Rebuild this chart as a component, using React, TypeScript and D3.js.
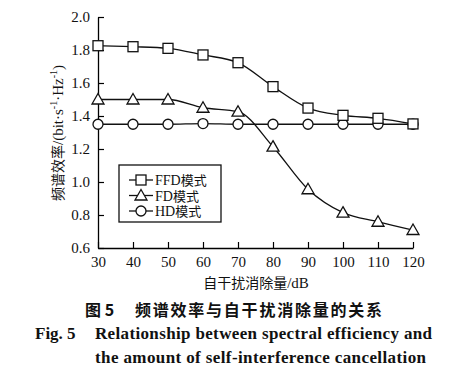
import { useEffect, useRef } from "react";
import * as d3 from "d3";

const xValues = [30, 40, 50, 60, 70, 80, 90, 100, 110, 120];
const ffdValues = [1.826, 1.82, 1.81, 1.77, 1.723, 1.578, 1.448, 1.404, 1.386, 1.352];
const fdValues = [1.5, 1.5, 1.5, 1.45, 1.426, 1.214, 0.956, 0.814, 0.759, 0.709];
const hdValues = [1.35, 1.35, 1.35, 1.354, 1.35, 1.35, 1.35, 1.35, 1.35, 1.35];
const yTicks = [0.6, 0.8, 1.0, 1.2, 1.4, 1.6, 1.8, 2.0];
const seriesNames = ["FFD模式", "FD模式", "HD模式"];
const markers = ["square", "triangle", "circle"];

const W = 460;
const H = 370;
const serif = "'Liberation Serif', 'Times New Roman', serif";
const cjk = "'Noto Sans CJK SC', sans-serif";

const App = () => {
  const ref = useRef<SVGSVGElement>(null);

  useEffect(() => {
    const svg = d3.select(ref.current);
    svg.selectAll("*").remove();

    const x = d3.scaleLinear().domain([30, 120]).range([98, 413]);
    const y = d3.scaleLinear().domain([0.6, 2.0]).range([248, 17]);

    // axes (ticks point inward)
    const xAxis = d3.axisBottom(x).tickValues(xValues).tickSize(-6).tickSizeOuter(0).tickFormat(d3.format("d"));
    svg
      .append("g")
      .attr("transform", "translate(0,248)")
      .call(xAxis)
      .call((g) => g.select(".domain").attr("stroke-width", 1.3))
      .call((g) => g.selectAll(".tick line").attr("stroke-width", 1.2))
      .call((g) =>
        g.selectAll(".tick text").attr("dy", "1.05em").attr("font-size", 15).attr("font-family", serif).attr("fill", "#111")
      );

    const yAxis = d3.axisLeft(y).tickValues(yTicks).tickSize(-6).tickSizeOuter(0).tickFormat(d3.format(".1f"));
    svg
      .append("g")
      .attr("transform", "translate(98,0)")
      .call(yAxis)
      .call((g) => g.select(".domain").attr("stroke-width", 1.3))
      .call((g) => g.selectAll(".tick line").attr("stroke-width", 1.2))
      .call((g) =>
        g.selectAll(".tick text").attr("x", -8).attr("font-size", 15).attr("font-family", serif).attr("fill", "#111")
      );

    // series
    const line = d3
      .line<number>()
      .x((_, i) => x(xValues[i]))
      .y((d) => y(d))
      .curve(d3.curveMonotoneX);

    const allSeries = [ffdValues, fdValues, hdValues];

    const drawMarker = (g: any, type: string, cx: number, cy: number) => {
      if (type === "square") {
        g.append("rect").attr("x", cx - 5).attr("y", cy - 5).attr("width", 10).attr("height", 10)
          .attr("fill", "white").attr("stroke", "#111").attr("stroke-width", 1.3);
      } else if (type === "triangle") {
        g.append("path").attr("d", `M${cx},${cy - 6}L${cx + 6},${cy + 4.5}L${cx - 6},${cy + 4.5}Z`)
          .attr("fill", "white").attr("stroke", "#111").attr("stroke-width", 1.3);
      } else {
        g.append("circle").attr("cx", cx).attr("cy", cy).attr("r", 5)
          .attr("fill", "white").attr("stroke", "#111").attr("stroke-width", 1.3);
      }
    };

    // draw lines first, then markers (HD, FD, FFD order)
    [2, 1, 0].forEach((s) => {
      svg.append("path").datum(allSeries[s]).attr("fill", "none").attr("stroke", "#111")
        .attr("stroke-width", 1.3).attr("d", line);
    });
    [2, 1, 0].forEach((s) => {
      const g = svg.append("g");
      allSeries[s].forEach((v, i) => drawMarker(g, markers[s], x(xValues[i]), y(v)));
    });

    // legend
    const lg = svg.append("g");
    lg.append("rect").attr("x", 119).attr("y", 165).attr("width", 102).attr("height", 57)
      .attr("fill", "white").attr("stroke", "#111").attr("stroke-width", 1.3);
    const rowsY = [180, 195.5, 211];
    seriesNames.forEach((name, i) => {
      lg.append("line").attr("x1", 129).attr("x2", 153).attr("y1", rowsY[i]).attr("y2", rowsY[i])
        .attr("stroke", "#111").attr("stroke-width", 1.3);
      drawMarker(lg, markers[i], 141, rowsY[i]);
      const t = lg.append("text").attr("x", 155).attr("y", rowsY[i] + 5).attr("font-size", 14).attr("fill", "#111");
      t.append("tspan").attr("font-family", serif).text(name.replace("模式", ""));
      t.append("tspan").attr("font-family", cjk).attr("font-size", 13).text("模式");
    });

    // y label
    const yl = svg.append("text").attr("transform", "translate(63,133) rotate(-90)").attr("text-anchor", "middle")
      .attr("font-size", 14).attr("fill", "#111");
    yl.append("tspan").attr("font-family", cjk).text("频谱效率");
    yl.append("tspan").attr("font-family", serif).attr("font-size", 15).text("/(bit·s");
    yl.append("tspan").attr("font-family", serif).attr("font-size", 10).attr("dy", -6).text("-1");
    yl.append("tspan").attr("font-family", serif).attr("font-size", 15).attr("dy", 6).text("·Hz");
    yl.append("tspan").attr("font-family", serif).attr("font-size", 10).attr("dy", -6).text("-1");
    yl.append("tspan").attr("font-family", serif).attr("font-size", 15).attr("dy", 6).text(")");

    // x label
    const xl = svg.append("text").attr("x", 256).attr("y", 288).attr("text-anchor", "middle")
      .attr("font-size", 14).attr("fill", "#111");
    xl.append("tspan").attr("font-family", cjk).text("自干扰消除量");
    xl.append("tspan").attr("font-family", serif).attr("font-size", 15).text("/dB");

    // caption
    svg.append("text").attr("x", 85).attr("y", 316).attr("font-family", cjk).attr("font-weight", "bold")
      .attr("font-size", 16).attr("fill", "#111").text("图 5");
    svg.append("text").attr("x", 135).attr("y", 316).attr("font-family", cjk).attr("font-weight", "bold")
      .attr("font-size", 16).attr("fill", "#111").attr("textLength", 247).attr("lengthAdjust", "spacing")
      .text("频谱效率与自干扰消除量的关系");
    svg.append("text").attr("x", 35).attr("y", 339).attr("font-family", serif).attr("font-weight", "bold")
      .attr("font-size", 17).attr("fill", "#111").text("Fig. 5");
    svg.append("text").attr("x", 95).attr("y", 339).attr("font-family", serif).attr("font-weight", "bold")
      .attr("font-size", 17).attr("fill", "#111").attr("textLength", 337).attr("lengthAdjust", "spacing")
      .text("Relationship between spectral efficiency and");
    svg.append("text").attr("x", 95).attr("y", 363).attr("font-family", serif).attr("font-weight", "bold")
      .attr("font-size", 17).attr("fill", "#111").attr("textLength", 331).attr("lengthAdjust", "spacing")
      .text("the amount of self-interference cancellation");
  }, []);

  return (
    <svg
      ref={ref}
      width={W}
      height={H}
      style={{ position: "absolute", left: 0, top: 0, background: "white" }}
    />
  );
};

export default App;
